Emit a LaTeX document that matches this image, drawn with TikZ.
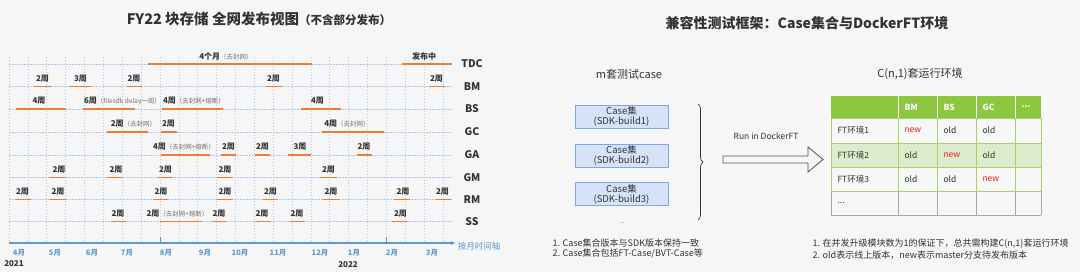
\documentclass[tikz,border=0pt]{standalone}
\usepackage{fontspec}
\setmainfont{Noto Sans CJK SC}
\usetikzlibrary{arrows.meta,calc,positioning,decorations.pathreplacing}
\definecolor{paper}{HTML}{F6F6F6}
\definecolor{gridblue}{HTML}{A7C9EC}
\definecolor{axisblue}{HTML}{5B9BD5}
\definecolor{barorange}{HTML}{EE7D31}
\definecolor{ink}{HTML}{333333}
\definecolor{muted}{HTML}{707070}
\definecolor{casefill}{HTML}{D5E2F8}
\definecolor{caseedge}{HTML}{7EA6E8}
\definecolor{tabgreen}{HTML}{8DC63F}
\definecolor{tabline}{HTML}{A6D16B}
\definecolor{tabpale}{HTML}{DDEDCC}
\definecolor{newred}{HTML}{F21D1D}
\newcommand\fs[1]{\fontsize{#1}{#1}\selectfont}
\newcommand\pz[1]{{\fs{6.5}\mdseries\color{muted}（#1）}}
\newcommand\nw{\textcolor{newred}{new}}

\begin{document}
\begin{tikzpicture}[x=1pt,y=-1pt,
 gridln/.style={gridblue,line width=.6pt,dash pattern=on 1.5pt off 1.5pt},
 barln/.style={barorange,line width=1.8pt},
 wk/.style={font=\fs{8}\bfseries,text=ink,inner sep=0pt},
 rowlab/.style={font=\fs{10.5}\bfseries,text=ink},
 mon/.style={font=\fs{7.5}\bfseries,text=axisblue},
 casebox/.style={draw=caseedge,fill=casefill,line width=.6pt,minimum width=93pt,minimum height=23pt,align=center,font=\fs{9.5},text=ink,inner sep=1pt},
 cell/.style={anchor=west,font=\fs{8.5},text=ink},
 note/.style={anchor=west,font=\fs{9},text=ink}]
 \fill[paper](0,0)rectangle(1080,272);
 \useasboundingbox(0,0)rectangle(1080,272);
 % release view
 \node[font=\fs{14.5}\bfseries,text=ink](ttlL)at(259,19){FY22 块存储 全网发布视图{\fs{11.5}（不含部分发布）}};
 \foreach \i in {0,...,23}\draw[gridln](9+18.87*\i,57)--(9+18.87*\i,243);
 \foreach \r/\yy in {TDC/64,BM/86.5,BS/109,GC/132,GA/155,GM/177.5,RM/199.5,SS/221.5}{
  \draw[gridln](9,\yy)--(452,\yy);
  \node[rowlab](r\r)at(472,\yy){\r};}
 \draw[axisblue,line width=1.2pt,-{Latex[length=5pt,width=4pt]}](9,243)--(456,243);
 \foreach \tx in {160,386}\draw[axisblue,line width=1pt](\tx,237)--(\tx,243);
 \foreach \m/\mx [count=\k] in {4月/19,5月/55,6月/92,7月/127,8月/166,9月/205,10月/240,11月/278,12月/320,1月/354,2月/392,3月/432}
  \node[mon](m\k)at(\mx,253){\m};
 \node[font=\fs{8}\bfseries,text=ink](y21)at(14,264){2021};
 \node[font=\fs{8}\bfseries,text=ink](y22)at(348,265){2022};
 \node[font=\fs{8.5},text=axisblue](axlab)at(479,246){按月时间轴};
 \foreach \a/\b/\yy/\lx/\t [count=\k] in {
  148/312/64/226/{4个月\pz{去封网}},402/452/64/424/{发布中},
  34/51/86.5/42.5/2周,69/92/86.5/80.5/3周,127/142/86.5/134/2周,266/282/86.5/273.5/2周,429/445/86.5/436.5/2周,
  16/66/109/39/4周,83/135/109/122.5/{6周\pz{filesdk delay一周}},162/223/109/194/{4周\pz{去封网+熔断}},301/341/109/317.5/4周,
  107/148/132/133.5/{2周\pz{去封网}},161/177/132/168.5/2周,322/384/132/347/{4周\pz{去封网}},
  161/210/155/184/{4周\pz{去封网+熔断}},221/236/155/228.5/2周,255/270/155/262.5/2周,288/311/155/300/3周,357/372/155/364/2周,
  50/66/177.5/59/2周,107/123/177.5/116/2周,158/173/177.5/165.5/2周,217/233/177.5/225/2周,320/337/177.5/328.5/2周,
  15/31/199.5/22.5/2周,50/66/199.5/58/2周,153/168/199.5/161/2周,217/233/199.5/225/2周,263/278/199.5/270.5/2周,323/339/199.5/331/2周,394/410/199.5/403/2周,435/451/199.5/442.5/2周,
  111/126/221.5/118/2周,160/202/221.5/177.5/{2周\pz{去封网+熔断}},212/227/221.5/219/2周,255/270/221.5/262/2周,290/305/221.5/297/2周,392/408/221.5/400.5/2周}{
  \draw[barln](\a,\yy)--(\b,\yy);
  \node[wk](w\k)at(\lx,\yy-8){\t};}
 % compatibility framework
 \node[font=\fs{14}\bfseries,text=ink](ttlR)at(807,23){兼容性测试框架：Case集合与DockerFT环境};
 \node[font=\fs{11},text=ink](hdL)at(629,74){m套测试case};
 \node[font=\fs{11},text=ink](hdR)at(920,74){C(n,1)套运行环境};
 \node[casebox](case1)at(621.5,116.5){Case集\\(SDK-build1)};
 \node[casebox,below=15.5pt of case1](case2){Case集\\(SDK-build2)};
 \node[casebox,below=15pt of case2](case3){Case集\\(SDK-build3)};
 \node[font=\fs{7},text=muted](more)at(622,223){...};
 \draw[ink,line width=.7pt,decorate,decoration={brace,amplitude=5pt}](698,104)--(698,220);
 \node[font=\fs{8.5},text=ink](runlab)at(766,136){Run in DockerFT};
 \draw[ink!85,line width=.8pt](723,156)--(808,156)--(808,147)--(823,159.5)--(808,172)--(808,163)--(723,163)--cycle;
 \fill[tabgreen](831,96)rectangle(1041,118);
 \fill[tabpale](831,143)rectangle(1041,167);
 \foreach \cx in {898,937,976,1015}\draw[white,line width=.8pt](\cx,96)--(\cx,118);
 \foreach \cx in {831,898,937,976,1015,1041}{
  \draw[tabline,line width=.8pt](\cx,118)--(\cx,191);
  \draw[gray!70,line width=.8pt](\cx,191)--(\cx,215);}
 \draw[gray!70,line width=.8pt](831,215)--(1041,215);
 \foreach \cy in {118,143,167,191}\draw[tabline,line width=.8pt](831,\cy)--(1041,\cy);
 \foreach \h/\cx [count=\k] in {BM/898,BS/937,GC/976}
  \node[cell,text=white,font=\fs{8.5}\bfseries](h\k)at(\cx+3,107){\h};
 \node[cell,text=white,font=\fs{8.5}\bfseries](h4)at(1018,107){...};
 \foreach \e/\p/\q/\s/\cy [count=\k] in {1/\nw/old/old/130.5,2/old/\nw/old/155,3/old/old/\nw/179}{
  \node[cell](e\k)at(834,\cy){FT环境\e};
  \node[cell](p\k)at(901,\cy){\p};
  \node[cell](q\k)at(940,\cy){\q};
  \node[cell](s\k)at(979,\cy){\s};}
 \node[cell](e4)at(834,203){...};
 \node[note](nL1)at(549,243){1. Case集合版本与SDK版本保持一致};
 \node[note](nL2)at(549,254){2. Case集合包括FT-Case/BVT-Case等};
 \node[note](nR1)at(809,244){1. 在并发升级模块数为1的保证下，总共需构建C(n,1)套运行环境};
 \node[note](nR2)at(809,255){2. old表示线上版本，new表示master分支待发布版本};
\end{tikzpicture}
\end{document}
